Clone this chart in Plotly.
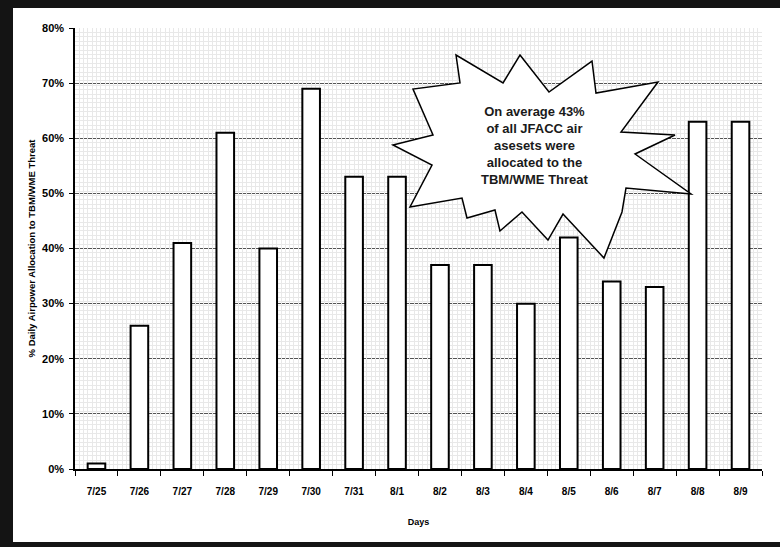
import plotly.graph_objects as go

days = ["7/25", "7/26", "7/27", "7/28", "7/29", "7/30", "7/31", "8/1",
        "8/2", "8/3", "8/4", "8/5", "8/6", "8/7", "8/8", "8/9"]
allocation_pct = [1, 26, 41, 61, 40, 69, 53, 53, 37, 37, 30, 42, 34, 33, 63, 63]
y_ticks = [0, 10, 20, 30, 40, 50, 60, 70, 80]
y_tick_labels = ["0%", "10%", "20%", "30%", "40%", "50%", "60%", "70%", "80%"]

# page is 780x547; the figure sits inside a dark frame (left 13px, top 8px, bottom 5px)
OX, OY = 13, 8
W, H = 780 - OX, 542 - OY
PL, PR, PT, PB = 75, 762, 28, 469  # plot area in page pixels


def fx(x):
    return (x - OX) / W


def fy(y):
    return 1 - (y - OY) / H


fig = go.Figure()
fig.add_trace(go.Bar(
    x=days, y=allocation_pct, width=0.41,
    marker=dict(color="white", line=dict(color="black", width=2)),
    showlegend=False, hoverinfo="x+y",
))
# empty helper trace so the overlay axis (fine vertical grid) is rendered
fig.add_trace(go.Scatter(x=[], y=[], xaxis="x2", yaxis="y", showlegend=False,
                         hoverinfo="skip"))

# starburst callout
star = [(520, 55), (549, 92), (592, 61), (596, 93), (658, 82), (621, 132), (675, 135),
        (635, 154), (691, 194), (626, 188), (622, 212), (604, 258), (563, 214), (548, 240),
        (522, 212), (500, 231), (495, 210), (467, 218), (462, 198), (410, 207), (432, 165),
        (393, 145), (433, 135), (413, 89), (460, 83), (456, 55), (503, 83)]
path = "M " + " L ".join(f"{fx(a):.4f},{fy(b):.4f}" for a, b in star) + " Z"

fig.update_layout(
    width=W, height=H,
    margin=dict(l=0, r=0, t=0, b=0, pad=0),
    paper_bgcolor="white", plot_bgcolor="white",
    font=dict(family="Arial, Liberation Sans, sans-serif", color="black"),
    shapes=[dict(type="path", path=path, xref="paper", yref="paper",
                 fillcolor="white", line=dict(color="black", width=1.5), layer="above")],
    annotations=[dict(
        text="<b>On average 43%<br>of all JFACC air<br>asesets were<br>allocated to the<br>TBM/WME Threat</b>",
        xref="paper", yref="paper", x=fx(535), y=fy(146), xanchor="center", yanchor="middle",
        showarrow=False, font=dict(size=13, color="#1a1a1a"), align="center")],
    xaxis=dict(
        domain=[fx(PL), fx(PR)],
        type="category", showline=True, linecolor="black", linewidth=1.5,
        ticks="outside", tickson="boundaries", ticklen=5, tickcolor="black",
        tickfont=dict(size=10, weight="bold"), ticklabelstandoff=12,
        showgrid=False, automargin=False,
        title=dict(text="<b>Days</b>", font=dict(size=9), standoff=23),
    ),
    xaxis2=dict(
        domain=[fx(PL), fx(PR)],
        overlaying="x", anchor="y", type="linear", range=[0, 160], dtick=1,
        showgrid=True, gridcolor="#e8e8e8", gridwidth=1,
        showticklabels=False, ticks="", showline=False, zeroline=False,
        automargin=False,
    ),
    yaxis=dict(
        domain=[fy(PB), fy(PT)],
        range=[0, 80], tickvals=y_ticks, ticktext=y_tick_labels,
        showline=True, linecolor="black", linewidth=1.5,
        ticks="outside", ticklen=4, tickcolor="black",
        tickfont=dict(size=11, weight="bold"), ticklabelstandoff=3,
        showgrid=True, gridcolor="#555555", gridwidth=1.3, zeroline=False,
        minor=dict(dtick=0.8, showgrid=True, gridcolor="#e8e8e8", gridwidth=1),
        automargin=False,
        title=dict(text="<b>% Daily Airpower Allocation to TBM/WME Threat</b>",
                   font=dict(size=9.5), standoff=5),
    ),
)

fig.write_html(
    "out.html",
    config={"displayModeBar": False},
    post_script=(
        "document.body.style.margin='0';document.body.style.overflow='hidden';"
        "document.documentElement.style.overflow='hidden';"
        "document.body.style.background='#141414';"
        "var d=document.getElementById('{plot_id}');"
        "d.style.position='absolute';d.style.left='%dpx';d.style.top='%dpx';"
        "d.style.width='%dpx';d.style.height='%dpx';" % (OX, OY, W, H)
    ),
)
